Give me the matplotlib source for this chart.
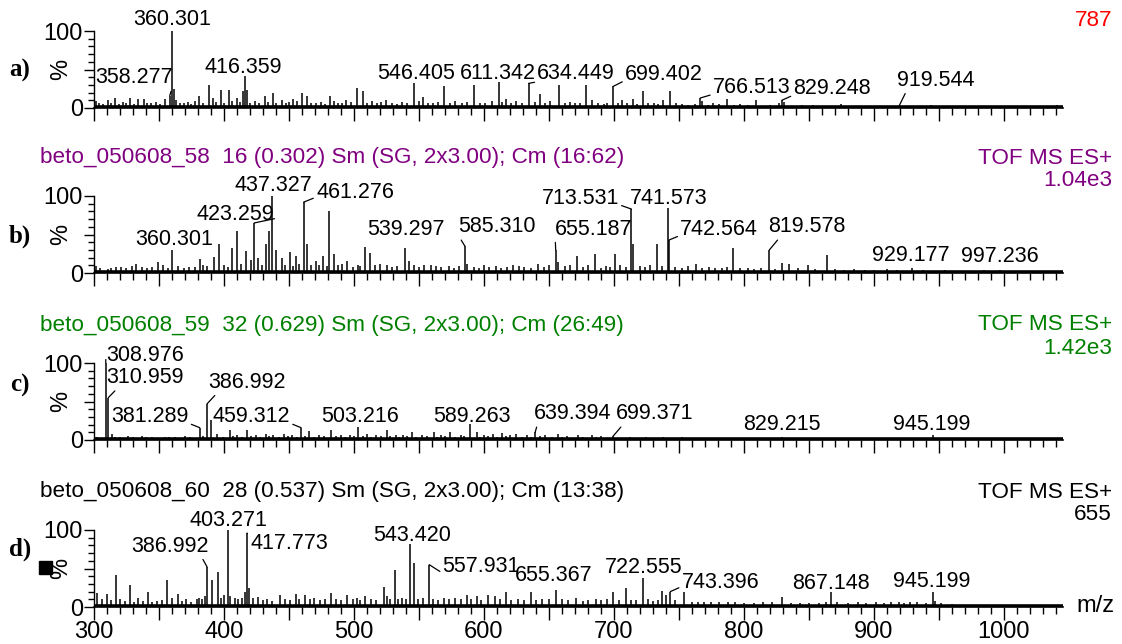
import matplotlib
matplotlib.use('Agg')
import matplotlib.pyplot as plt
from matplotlib.ticker import MultipleLocator, FuncFormatter
from matplotlib.patches import Rectangle

plt.rcParams['font.family'] = ['Liberation Sans', 'DejaVu Sans']

# ---- datos de los espectros (m/z, % intensidad) ----
a_mz = [301.5, 310.5, 316, 328, 334, 338.5, 348, 355, 358.3, 360.3, 361.8, 363, 381, 388.5, 391.7, 397.5,
        403.6, 409.8, 415, 416.4, 417.7, 431.5, 437.4, 444.4, 453, 459.7, 463.6, 481.5, 494, 502, 506.7,
        525, 546.4, 553.5, 569, 592, 611.3, 617, 634.4, 643, 657.7, 678.2, 683, 699.4, 706.5, 714.6, 722,
        738, 743, 766.5, 768, 787, 809.5, 827, 829.2, 831, 853.5, 875, 919.5, 944, 1041]
a_h = [9, 11, 13, 13, 12, 12, 8, 12, 16, 100, 25, 10, 16, 30, 13, 23,
       24, 13, 22, 42, 24, 15, 20, 11, 12, 20, 15, 15, 11, 26, 22,
       10, 32, 14, 28, 30, 34, 12, 32, 18, 30, 30, 10, 28, 10, 12, 22,
       10, 22, 13, 9, 12, 10, 7, 10, 8, 4, 5, 3, 4, 4]
a_small_mz = [304, 307, 313, 319, 322, 325, 331, 341, 344, 351, 366, 369, 372, 375, 378, 384, 394, 400, 406,
              412, 420, 424, 427, 434, 440, 448, 450, 456, 467, 471, 475, 478, 485, 488, 491, 498, 510, 514,
              518, 521, 529, 533, 537, 541, 550, 557, 561, 565, 574, 578, 583, 587, 597, 601, 606, 614, 621,
              625, 629, 639, 647, 651, 662, 666, 670, 674, 688, 692, 695, 703, 710, 718, 726, 731, 734, 748,
              752, 757, 762, 772, 776, 781, 792, 797, 803, 814, 820, 836, 845, 862, 870, 884, 893, 905, 912,
              927, 935, 952, 963, 975, 988, 1000, 1012, 1026, 1036]
a_small_h = [6, 5, 7, 5, 8, 6, 5, 7, 6, 5, 7, 6, 8, 5, 9, 6, 8, 7, 9,
             8, 7, 9, 6, 8, 7, 6, 8, 9, 7, 6, 8, 5, 9, 7, 6, 8, 7, 9,
             6, 8, 7, 5, 8, 6, 9, 7, 6, 8, 7, 9, 6, 8, 7, 6, 9, 8, 7,
             9, 6, 8, 7, 9, 6, 8, 7, 6, 7, 5, 6, 7, 6, 5, 6, 7, 5, 6,
             5, 4, 5, 4, 6, 5, 4, 5, 4, 3, 4, 3, 4, 3, 3, 2, 3, 2, 3,
             2, 3, 2, 2, 3, 2, 2, 3, 2, 3]

b_mz = [301.6, 310.5, 317, 332, 336.8, 349, 353, 360.3, 378, 381.8, 392, 396, 405.8, 410.4, 416.8, 421,
        423.3, 426.5, 432, 434.6, 437.3, 440, 444.5, 450.8, 455.5, 461.3, 463.5, 470.6, 476, 481, 484.5,
        495, 508.8, 512.6, 520.4, 525.8, 539.3, 542, 559, 572.8, 585.3, 587, 641.8, 655.2, 657, 671.5,
        685.4, 701, 713.5, 715, 733, 741.6, 742.6, 763, 791.5, 819.6, 829.6, 835, 849, 864, 929.2, 997.2]
b_h = [9, 5, 8, 12, 8, 14, 10, 30, 8, 18, 21, 38, 33, 54, 28, 17,
       65, 20, 38, 54, 100, 30, 20, 27, 22, 92, 38, 15, 22, 81, 25,
       15, 34, 26, 12, 10, 33, 15, 10, 9, 35, 12, 12, 30, 14, 22,
       25, 25, 83, 38, 38, 85, 43, 12, 33, 30, 13, 12, 10, 24, 7, 4]
b_small_mz = [305, 313, 321, 325, 329, 341, 345, 357, 365, 369, 373, 384, 387, 400, 403, 413, 429, 447,
              453, 458, 467, 473, 479, 488, 491, 499, 503, 505, 516, 529, 533, 546, 550, 554, 563, 567,
              577, 581, 592, 596, 600, 604, 609, 613, 618, 622, 627, 631, 636, 646, 650, 662, 666, 676,
              680, 690, 694, 697, 705, 709, 720, 724, 728, 737, 747, 752, 757, 768, 773, 778, 783, 787,
              797, 803, 808, 813, 824, 842, 855, 870, 877, 885, 893, 900, 910, 918, 938, 946, 955, 965,
              975, 985, 1005, 1015, 1025, 1035, 1042]
b_small_h = [7, 6, 8, 6, 9, 7, 8, 6, 9, 7, 8, 10, 9, 11, 8, 12, 10, 11,
             9, 12, 10, 11, 9, 10, 12, 8, 11, 9, 10, 8, 9, 11, 8, 10, 9, 8,
             7, 9, 8, 7, 10, 8, 9, 7, 8, 10, 9, 8, 7, 8, 10, 9, 11, 8,
             10, 7, 9, 8, 10, 8, 9, 8, 10, 9, 8, 7, 9, 6, 8, 7, 6, 8,
             7, 6, 5, 6, 5, 6, 5, 5, 4, 5, 4, 4, 5, 4, 4, 3, 4, 3,
             3, 4, 3, 3, 3, 2, 3]

c_mz = [302, 309.0, 311.0, 313.8, 320, 326, 336.8, 345, 354.6, 362, 370, 381.3, 387.0, 390, 395, 404.4,
        410, 418, 425, 432, 438, 445.8, 452, 459.3, 465.6, 473, 482, 490, 497, 503.2, 510, 517, 525.8,
        532, 538, 545, 552, 561.8, 567, 574, 582, 589.3, 594.7, 600, 607, 614, 620, 625, 633, 639.4,
        647, 657, 664, 672, 683, 690, 699.4, 712, 725, 738, 752, 768, 790, 806, 818, 829.2, 845, 870,
        890, 915, 930, 945.2, 960, 985, 1010, 1030]
c_h = [4, 100, 55, 8, 4, 5, 5, 4, 4, 4, 5, 16, 47, 26, 8, 13,
       6, 13, 6, 8, 6, 8, 6, 16, 12, 7, 13, 7, 6, 17, 8, 7, 13,
       7, 6, 10, 6, 11, 7, 10, 7, 21, 11, 7, 8, 9, 6, 8, 6, 10,
       6, 8, 5, 6, 6, 5, 5, 4, 4, 4, 4, 3, 3, 3, 3, 4, 3, 3,
       2, 3, 3, 6, 3, 2, 2, 2]
c_small_mz = [305, 316, 323, 330, 333, 340, 349, 358, 366, 374, 378, 384, 399, 407, 414, 421, 428, 435,
              442, 449, 456, 462, 469, 477, 486, 493, 500, 507, 513, 521, 528, 535, 541, 548, 556, 564,
              570, 578, 585, 597, 603, 610, 617, 629, 636, 643, 652, 660, 668, 676, 686, 694, 704, 716,
              730, 745, 760, 775, 783, 797, 812, 825, 836, 852, 862, 878, 900, 922, 938, 952, 970, 995,
              1020, 1040]
c_small_h = [3, 4, 3, 4, 3, 4, 3, 4, 3, 4, 3, 5, 4, 5, 4, 5, 4, 5,
             4, 5, 4, 5, 4, 5, 5, 4, 5, 5, 4, 5, 5, 4, 5, 4, 5, 4,
             5, 4, 5, 4, 5, 4, 5, 4, 4, 5, 4, 4, 3, 4, 4, 3, 3, 3,
             3, 3, 3, 3, 3, 3, 3, 3, 3, 3, 3, 2, 3, 2, 3, 2, 2, 2,
             2, 2]

d_mz = [302, 306, 310, 313, 316.6, 320, 324, 327.7, 331, 334, 338, 341.7, 345, 348.4, 352, 356, 360, 365,
        368, 371, 375, 379, 381, 383, 385.6, 387.0, 390.6, 395.3, 398, 400, 403.3, 405, 408.5, 411, 414,
        416, 417.8, 419.6, 422, 426.5, 430, 433, 437, 443, 447, 451, 455.5, 458, 462.4, 466, 469, 474,
        478, 482, 486, 490, 495, 499, 502.5, 505, 508.8, 513, 517, 523, 525.3, 528, 531.4, 534, 537, 540,
        543.4, 546, 549, 552.9, 557.9, 561, 565, 569.5, 573, 578, 582, 586.6, 590, 594.8, 598, 603, 608.5,
        612, 617, 621, 626, 631, 636, 640, 645, 650, 655.4, 660, 665, 670.8, 676, 680, 686, 690, 694.4,
        699, 704, 709, 713, 717, 722.6, 726, 730, 734, 737, 740, 743.4, 747, 754, 760, 765, 769, 775, 781,
        787.7, 793, 800, 808, 815, 822, 829.6, 836, 843, 850, 858, 863, 867.1, 872, 880, 887.7, 894,
        901.6, 908, 913, 919, 923, 927.7, 933, 940, 945.2, 947, 952, 960, 970, 980, 992, 1003.6, 1015,
        1025, 1035, 1042]
d_h = [18, 10, 17, 9, 41, 10, 8, 29, 7, 12, 8, 20, 7, 8, 9, 35, 12, 17,
       8, 10, 7, 10, 12, 11, 14, 52, 35, 45, 12, 15, 100, 14, 12, 10, 12,
       20, 96, 25, 12, 13, 9, 10, 8, 16, 10, 9, 17, 10, 16, 10, 12, 9,
       11, 18, 10, 9, 15, 10, 12, 9, 14, 10, 9, 26, 14, 10, 48, 11, 12, 10,
       82, 57, 11, 12, 55, 11, 9, 12, 10, 12, 11, 16, 10, 14, 9, 16, 14,
       10, 20, 9, 10, 9, 20, 9, 10, 11, 22, 10, 9, 12, 8, 9, 10, 9, 11,
       19, 9, 25, 9, 9, 38, 10, 8, 9, 21, 15, 20, 9, 19, 7, 7, 6, 6, 6,
       7, 6, 5, 5, 6, 6, 13, 5, 5, 5, 5, 6, 19, 6, 5, 7, 5,
       7, 5, 6, 6, 5, 7, 6, 5, 20, 8, 5, 4, 3, 3, 3, 3, 3,
       3, 3, 3]

spectra = [(a_mz + a_small_mz, a_h + a_small_h),
           (b_mz + b_small_mz, b_h + b_small_h),
           (c_mz + c_small_mz, c_h + c_small_h),
           (d_mz, d_h)]

# etiquetas de picos: (texto, m/z del pico, posicion texto (m/z, %), punto de enganche de la linea o None)
a_labels = [('360.301', 360.3, (360, 115), None), ('358.277', 358.3, (330.5, 39), (1.0, 0.1)),
            ('416.359', 416.4, (414.8, 52), None), ('546.405', 546.4, (547.9, 45), None),
            ('611.342', 611.3, (610.5, 45), None), ('634.449', 634.4, (671, 45), (0.0, 0.1)),
            ('699.402', 699.4, (738.5, 44), (0.0, 0.2)), ('766.513', 766.5, (806, 26), (0.0, 0.2)),
            ('829.248', 829.2, (868, 25), (0.0, 0.2)), ('919.544', 919.5, (947.8, 36), (0.12, 0.0))]
b_labels = [('437.327', 437.3, (437.7, 113), None), ('461.276', 461.3, (500.8, 104), (0.0, 0.3)),
            ('423.259', 423.3, (409, 76), (1.0, 0.3)), ('360.301', 360.3, (362, 43), None),
            ('539.297', 539.3, (540, 57), None), ('585.310', 585.3, (610, 60), (0.0, 0.1)),
            ('655.187', 655.2, (684.6, 57), (0.0, 0.1)), ('713.531', 713.5, (674, 97), (1.0, 0.2)),
            ('741.573', 741.6, (742, 97), None), ('742.564', 742.6, (781, 57), (0.0, 0.2)),
            ('819.578', 819.6, (848.5, 60), (0.15, 0.0)), ('929.177', 929.2, (928.5, 23), None),
            ('997.236', 997.2, (997, 21), None)]
c_labels = [('308.976', 309.0, (339, 110), (0.0, 0.3)), ('310.959', 311.0, (339, 81), (0.15, 0.0)),
            ('386.992', 387.0, (417.6, 75), (0.12, 0.0)), ('381.289', 381.3, (343, 30), (1.0, 0.2)),
            ('459.312', 459.3, (421, 30), (1.0, 0.2)), ('503.216', 503.2, (504.5, 30), None),
            ('589.263', 589.3, (590.8, 31), None), ('639.394', 639.4, (668, 34), (0.05, 0.0)),
            ('699.371', 699.4, (731, 34), (0.1, 0.0)), ('829.215', 829.2, (829, 20), None),
            ('945.199', 945.2, (944.6, 20), None)]
d_labels = [('403.271', 403.3, (403.8, 112), None), ('386.992', 387.0, (358.8, 79), (0.9, 0.0)),
            ('417.773', 417.8, (450, 82), (0.1, 0.0)), ('543.420', 543.4, (544.6, 93), None),
            ('557.931', 557.9, (598, 52), (0.0, 0.2)), ('655.367', 655.4, (653.8, 41), None),
            ('722.555', 722.6, (722.6, 51), None), ('743.396', 743.4, (782, 32), (0.0, 0.3)),
            ('867.148', 867.1, (867, 30), None), ('945.199', 945.2, (944.6, 33), None)]
all_labels = [a_labels, b_labels, c_labels, d_labels]

headers = [None,
           'beto_050608_58  16 (0.302) Sm (SG, 2x3.00); Cm (16:62)',
           'beto_050608_59  32 (0.629) Sm (SG, 2x3.00); Cm (26:49)',
           'beto_050608_60  28 (0.537) Sm (SG, 2x3.00); Cm (13:38)']
intensities = ['787', '1.04e3', '1.42e3', '655']
colors = ['#ff0000', '#800080', '#008000', '#000000']
letters = ['a)', 'b)', 'c)', 'd)']

# ---- figura ----
W, H = 1122, 644
fig = plt.figure(figsize=(W / 100, H / 100), dpi=100)

baselines = [108, 273, 440, 607]
letter_y = [70, 236, 385, 549]
alto = 77
x0, x1 = 94, 1063

for i in range(4):
    base = baselines[i]
    ax = fig.add_axes([x0 / W, 1 - base / H, (x1 - x0) / W, alto / H])
    mz, h = spectra[i]
    ax.vlines(mz, 0, h, color='black', lw=1.1)
    ax.axhline(1.3, color='black', lw=2.6)
    ax.set_xlim(300, 1045.5)
    ax.set_ylim(0, 100)

    for s in ['top', 'right']:
        ax.spines[s].set_visible(False)
    ax.spines['left'].set_linewidth(1)
    ax.spines['bottom'].set_linewidth(1.2)

    ax.yaxis.set_major_locator(MultipleLocator(50))
    ax.yaxis.set_minor_locator(MultipleLocator(10))
    ax.yaxis.set_major_formatter(FuncFormatter(lambda v, p: '' if v == 50 else '%d' % v))
    ax.tick_params(axis='y', which='major', length=7, width=1, labelsize=17, pad=1)
    ax.tick_params(axis='y', which='minor', length=4, width=1)

    ax.xaxis.set_major_locator(MultipleLocator(50))
    ax.xaxis.set_minor_locator(MultipleLocator(10))
    if i == 3:
        ax.xaxis.set_major_formatter(FuncFormatter(lambda v, p: '%d' % v if v % 100 == 0 else ''))
    else:
        ax.set_xticklabels([])
    ax.tick_params(axis='x', which='major', length=9, width=1, labelsize=17, pad=1)
    ax.tick_params(axis='x', which='minor', length=5, width=1)

    ax.text(-0.034, 0.5, '%', transform=ax.transAxes, rotation=90, fontsize=17,
            ha='center', va='center')

    for txt, pk, pos, rel in all_labels[i]:
        k = mz.index(pk)
        if rel is None:
            ax.annotate(txt, xy=(pk, h[k]), xytext=pos, ha='center', va='center',
                        fontsize=15.5, annotation_clip=False)
        else:
            ax.annotate(txt, xy=(pk, h[k]), xytext=pos, ha='center', va='center',
                        fontsize=15.5, annotation_clip=False,
                        arrowprops=dict(arrowstyle='-', lw=0.9, color='black',
                                        shrinkA=0, shrinkB=0, relpos=rel))

    fig.text(20 / W, 1 - letter_y[i] / H, letters[i], fontsize=18, fontweight='bold',
             family='Liberation Serif', ha='center', va='center')

    if headers[i] is not None:
        fig.text(40 / W, 1 - (base - 115) / H, headers[i], color=colors[i], fontsize=16.2,
                 ha='left', va='center')
        fig.text(1112 / W, 1 - (base - 115) / H, 'TOF MS ES+', color=colors[i], fontsize=16.2,
                 ha='right', va='center')
        fig.text(1112 / W, 1 - (base - 92) / H, intensities[i], color=colors[i], fontsize=16.2,
                 ha='right', va='center')
    else:
        fig.text(1112 / W, 1 - 20 / H, intensities[i], color=colors[i], fontsize=16.2,
                 ha='right', va='center')

# cuadro negro junto al % del panel d
fig.patches.append(Rectangle((39 / W, 1 - 574 / H), 13 / W, 13 / H, transform=fig.transFigure,
                             color='black', figure=fig))
fig.text(1076 / W, 1 - 606 / H, 'm/z', fontsize=17, ha='left', va='center')

fig.savefig('out.png', dpi=100)
